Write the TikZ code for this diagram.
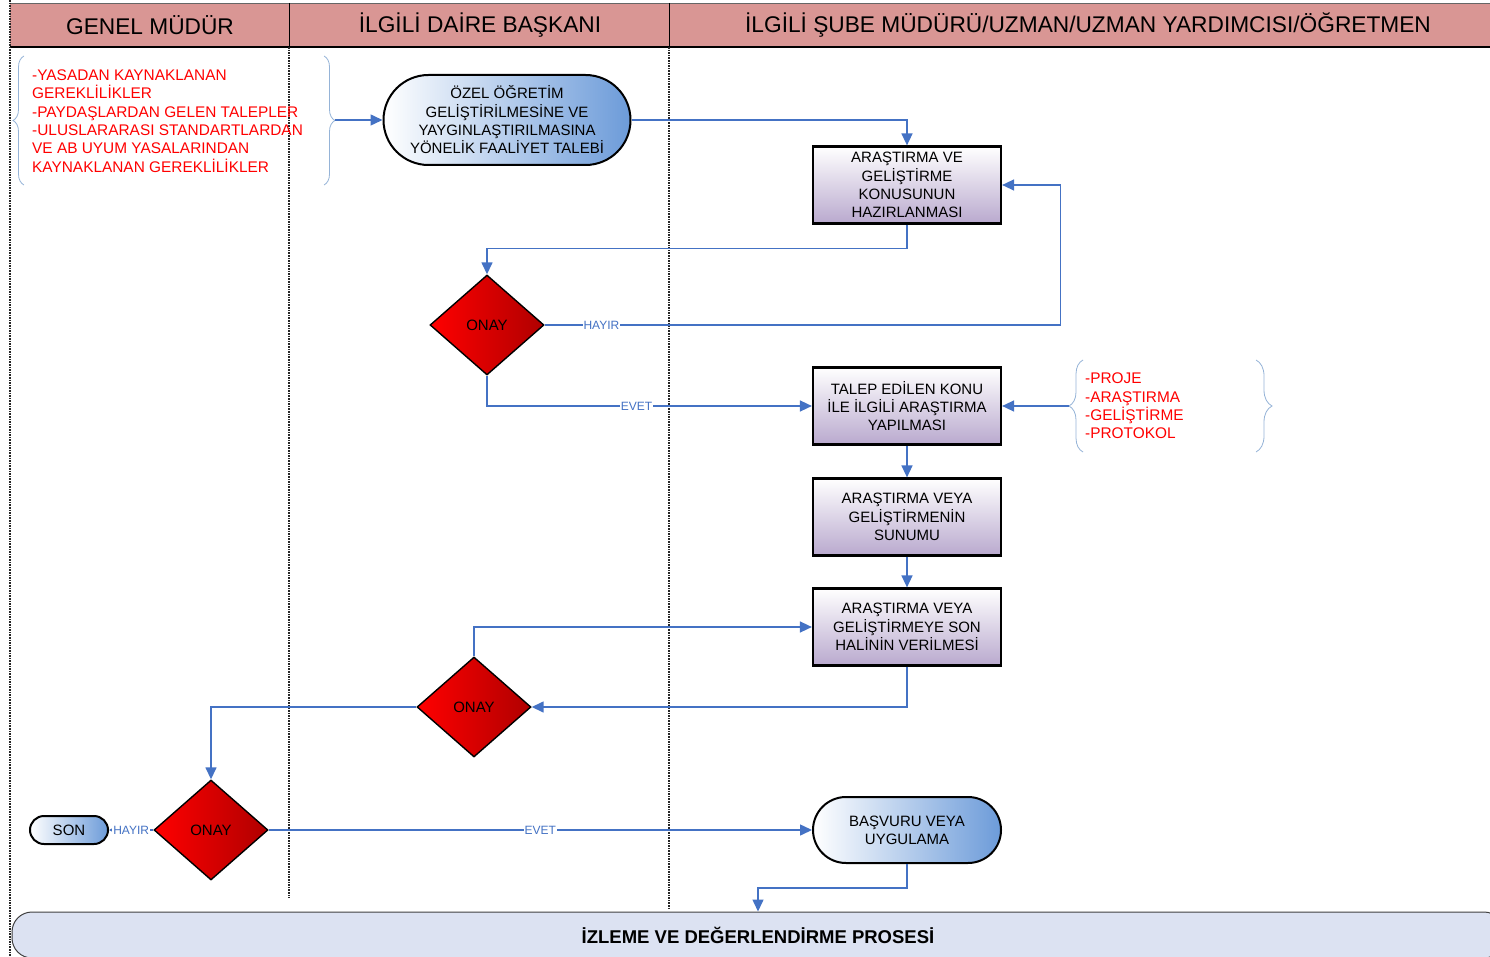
\documentclass[tikz,border=0pt]{standalone}
\usepackage{fontspec}
\setmainfont{Liberation Sans}
\usetikzlibrary{arrows.meta,shapes.geometric,decorations.pathreplacing}
\definecolor{hdrred}{HTML}{D99694}
\definecolor{flowblue}{HTML}{4472C4}
\definecolor{termblue}{HTML}{6C9BD9}
\definecolor{boxpurple}{HTML}{B9A9CE}
\definecolor{gatedark}{HTML}{B00000}
\definecolor{bandblue}{HTML}{DCE2F2}
\definecolor{notered}{HTML}{FF0000}
\definecolor{bracecol}{HTML}{95B3D7}

\begin{document}
\begin{tikzpicture}[x=1pt, y=-1pt, >={Triangle[length=12pt,width=11pt]},
    font=\fontsize{15}{18.3}\selectfont,
    lane/.style={densely dotted, line width=1.6pt, black!85},
    flow/.style={->, draw=flowblue, line width=1.5pt},
    lbl/.style={font=\fontsize{12}{14}\selectfont, text=flowblue, fill=white, inner sep=1pt},
    hdr/.style={font=\fontsize{22.7}{27}\selectfont},
    task/.style={rectangle, draw=black, line width=2.2pt,
                 top color=white, bottom color=boxpurple,
                 minimum width=188pt, minimum height=77pt,
                 align=center, inner sep=2pt},
    term/.style={rectangle, draw=black, line width=2pt,
                 left color=white, right color=termblue,
                 align=center, inner sep=2pt},
    gate/.style={diamond, aspect=1.14, draw=black, line width=1.4pt,
                 left color=notered, right color=gatedark,
                 minimum width=114pt, minimum height=100pt, inner sep=0pt},
    note/.style={text=notered, align=left, inner sep=0pt,
                 font=\fontsize{15.4}{18.3}\selectfont},
    curly/.style={decorate, draw=bracecol, line width=0.8pt}]

\useasboundingbox (0,0) rectangle (1490,957);
\clip (0,0) rectangle (1490,957);

% Swimlane header
\fill[hdrred] (10,3) rectangle (1490,47);
\draw[black!60, line width=0.8pt] (10,3) -- (1490,3);
\draw[black, line width=1.2pt] (10,47) -- (1490,47);
\draw[black, line width=0.8pt] (289,3) -- (289,47);
\draw[black, line width=0.8pt] (669,3) -- (669,47);
\node[hdr] (hdrgm)    at (150,25)  {GENEL MÜDÜR};
\node[hdr] (hdrdb)    at (480,25)  {İLGİLİ DAİRE BAŞKANI};
\node[hdr] (hdrsube)  at (1088,25) {İLGİLİ ŞUBE MÜDÜRÜ/UZMAN/UZMAN YARDIMCISI/ÖĞRETMEN};

% Lane separators
\draw[lane] (10,0) -- (10,957);
\draw[lane] (289,47) -- (289,898);
\draw[lane] (669,47) -- (669,910);

% Monitoring band (bottom)
\node[rectangle, rounded corners=20pt, draw=black!75, line width=1pt, fill=bandblue,
      minimum width=1492pt, minimum height=46pt,
      font=\fontsize{18.5}{21}\bfseries] (izleme) at (758,935)
  {İZLEME VE DEĞERLENDİRME PROSESİ};

% Input notes with braces
\node[note, anchor=west] (gerek) at (32,121)
  {-YASADAN KAYNAKLANAN\\GEREKLİLİKLER\\-PAYDAŞLARDAN GELEN TALEPLER\\-ULUSLARARASI STANDARTLARDAN\\VE AB UYUM YASALARINDAN\\KAYNAKLANAN GEREKLİLİKLER};
\draw[curly, decoration={brace, amplitude=11pt}] (24,185) -- (24,56);
\draw[curly, decoration={brace, amplitude=11pt}] (324,56) -- (324,185);
\coordinate (lawtip) at (335,120);

\node[note, anchor=west] (turler) at (1085,406)
  {-PROJE\\-ARAŞTIRMA\\-GELİŞTİRME\\-PROTOKOL};
\draw[curly, decoration={brace, amplitude=14pt}] (1083,452) -- (1083,360);
\draw[curly, decoration={brace, amplitude=16pt}] (1256,360) -- (1256,452);
\coordinate (projtip) at (1069,406);

% Process steps
\node[term, rounded corners=45pt, minimum width=247pt, minimum height=90pt] (talep) at (507,120)
  {ÖZEL ÖĞRETİM\\GELİŞTİRİLMESİNE VE\\YAYGINLAŞTIRILMASINA\\YÖNELİK FAALİYET TALEBİ};
\node[task] (konu)    at (907,185) {ARAŞTIRMA VE\\GELİŞTİRME\\KONUSUNUN\\HAZIRLANMASI};
\node[gate] (onay1)   at (487,325) {ONAY};
\node[task] (arastir) at (907,406) {TALEP EDİLEN KONU\\İLE İLGİLİ ARAŞTIRMA\\YAPILMASI};
\node[task] (sunum)   at (907,517) {ARAŞTIRMA VEYA\\GELİŞTİRMENİN\\SUNUMU};
\node[task] (sonhal)  at (907,627) {ARAŞTIRMA VEYA\\GELİŞTİRMEYE SON\\HALİNİN VERİLMESİ};
\node[gate] (onay2)   at (474,707) {ONAY};
\node[gate] (onay3)   at (211,830) {ONAY};
\node[term, rounded corners=14pt, minimum width=78pt, minimum height=28pt] (son) at (69,830) {SON};
\node[term, rounded corners=33pt, minimum width=188pt, minimum height=66pt] (basvuru) at (907,830)
  {BAŞVURU VEYA\\UYGULAMA};

% Connectors
\draw[flow] (lawtip) -- (talep.west);
\draw[flow] (talep.east) -| (konu.north);
\draw[flow] (konu.south) -- ++(0,24) -| (onay1.north);
\draw[flow] (onay1.east) -- node[lbl, pos=0.11] {HAYIR} ++(516,0) |- (konu.east);
\draw[flow] (onay1.south) |- node[lbl, pos=0.73] {EVET} (arastir.west);
\draw[flow] (projtip) -- (arastir.east);
\draw[flow] (arastir) -- (sunum);
\draw[flow] (sunum) -- (sonhal);
\draw[flow] (sonhal.south) |- (onay2.east);
\draw[flow] (onay2.north) |- (sonhal.west);
\draw[flow] (onay2.west) -| (onay3.north);
\draw[flow, -{Triangle[length=4pt,width=4pt]}] (onay3.west) -- node[lbl] {HAYIR} (son.east);
\draw[flow] (onay3.east) -- node[lbl] {EVET} (basvuru.west);
\draw[flow] (basvuru.south) -- ++(0,24) -| (izleme.north);

\end{tikzpicture}
\end{document}
